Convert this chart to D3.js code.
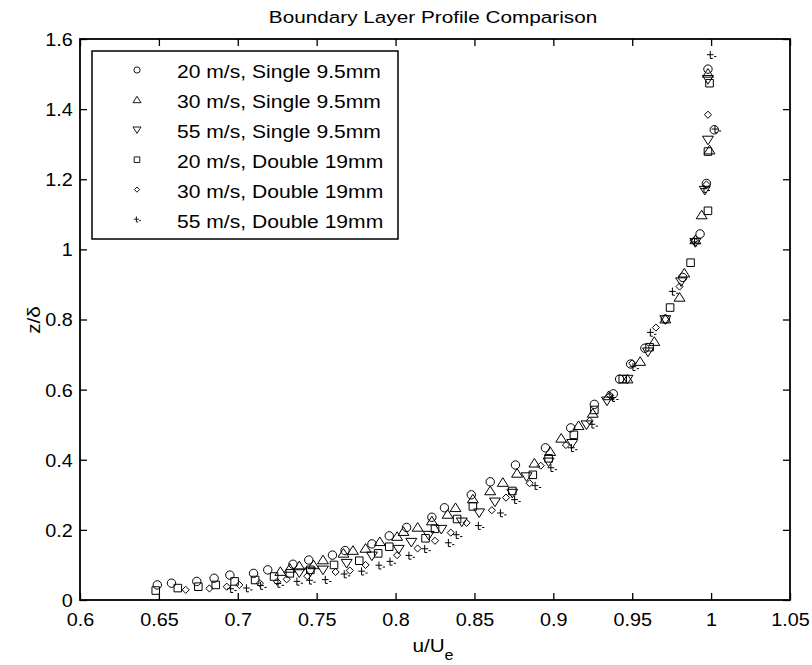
<!DOCTYPE html>
<html>
<head>
<meta charset="utf-8">
<script src="https://d3js.org/d3.v7.min.js"></script>
<style>
  body { margin: 0; background: #fff; }
  svg { display: block; }
  text { font-family: "Liberation Sans", Arial, sans-serif; fill: #000; }
</style>
</head>
<body>
<svg width="812" height="665"></svg>
<script>
const svg = d3.select('svg')

// tick labels
const xTicks = [0.6, 0.65, 0.7, 0.75, 0.8, 0.85, 0.9, 0.95, 1, 1.05]
const yTicks = [0, 0.2, 0.4, 0.6, 0.8, 1, 1.2, 1.4, 1.6]

// series values, [u/Ue, z/delta]
const single20 = [
	[0.649,0.043],[0.658,0.048],[0.674,0.053],[0.685,0.062],[0.695,0.071],[0.710,0.076],
	[0.719,0.086],[0.735,0.102],[0.745,0.114],[0.760,0.128],[0.768,0.141],[0.785,0.160],
	[0.796,0.183],[0.807,0.207],[0.823,0.236],[0.831,0.263],[0.848,0.300],[0.860,0.337],
	[0.876,0.385],[0.895,0.434],[0.911,0.491],[0.926,0.558],[0.938,0.588],[0.942,0.630],
	[0.949,0.673],[0.958,0.718],[0.971,0.801],[0.982,0.920],[0.993,1.044],[0.997,1.188],
	[1.002,1.341],[0.998,1.514]
]
const single30 = [
	[0.727,0.081],[0.733,0.090],[0.739,0.097],[0.748,0.100],[0.754,0.114],[0.767,0.133],
	[0.773,0.141],[0.781,0.147],[0.790,0.166],[0.801,0.181],[0.805,0.195],[0.814,0.207],
	[0.823,0.225],[0.833,0.244],[0.838,0.263],[0.849,0.288],[0.860,0.311],[0.868,0.335],
	[0.877,0.361],[0.888,0.390],[0.898,0.423],[0.905,0.461],[0.916,0.497],[0.925,0.532],
	[0.935,0.582],[0.947,0.630],[0.955,0.680],[0.964,0.737],[0.971,0.801],[0.980,0.863],
	[0.983,0.932],[0.990,1.027],[0.994,1.098],[0.999,1.283],[0.998,1.502]
]
const single55 = [
	[0.739,0.078],[0.746,0.081],[0.754,0.086],[0.769,0.105],[0.785,0.126],[0.802,0.145],
	[0.810,0.165],[0.821,0.185],[0.829,0.202],[0.842,0.223],[0.853,0.249],[0.863,0.280],
	[0.874,0.305],[0.883,0.352],[0.897,0.394],[0.912,0.447],[0.921,0.500],[0.934,0.568],
	[0.947,0.630],[0.960,0.708],[0.971,0.800],[0.981,0.908],[0.990,1.020],[0.996,1.169],
	[0.998,1.312],[0.998,1.485]
]
const double20 = [
	[0.648,0.027],[0.662,0.034],[0.675,0.038],[0.686,0.043],[0.698,0.053],[0.711,0.057],
	[0.723,0.067],[0.733,0.076],[0.746,0.086],[0.761,0.100],[0.777,0.112],[0.789,0.133],
	[0.796,0.152],[0.819,0.176],[0.825,0.203],[0.839,0.231],[0.849,0.267],[0.874,0.311],
	[0.887,0.357],[0.897,0.404],[0.913,0.471],[0.926,0.542],[0.944,0.630],[0.961,0.721],
	[0.974,0.834],[0.987,0.962],[0.998,1.110],[0.998,1.279],[0.999,1.474]
]
const double30 = [
	[0.667,0.029],[0.682,0.033],[0.693,0.038],[0.701,0.043],[0.714,0.048],[0.725,0.052],
	[0.731,0.059],[0.744,0.068],[0.762,0.080],[0.771,0.084],[0.781,0.100],[0.801,0.128],
	[0.814,0.147],[0.825,0.169],[0.835,0.192],[0.845,0.220],[0.861,0.256],[0.870,0.292],
	[0.885,0.333],[0.892,0.383],[0.908,0.442],[0.923,0.511],[0.936,0.583],[0.950,0.675],
	[0.965,0.777],[0.980,0.894],[0.989,1.025],[0.997,1.185],[0.998,1.384]
]
const double55 = [
	[0.696,0.031],[0.706,0.033],[0.715,0.040],[0.726,0.046],[0.738,0.052],[0.746,0.055],
	[0.756,0.057],[0.768,0.073],[0.779,0.081],[0.790,0.098],[0.797,0.109],[0.809,0.126],
	[0.819,0.145],[0.834,0.162],[0.839,0.185],[0.853,0.211],[0.867,0.247],[0.876,0.285],
	[0.889,0.325],[0.899,0.376],[0.912,0.433],[0.925,0.500],[0.938,0.576],[0.951,0.664],
	[0.962,0.762],[0.976,0.879],[0.990,1.020],[0.996,1.172],[1.003,1.342],[1.000,1.554]
]

const seriesNames = [
	'20 m/s, Single 9.5mm', '30 m/s, Single 9.5mm', '55 m/s, Single 9.5mm',
	'20 m/s, Double 19mm', '30 m/s, Double 19mm', '55 m/s, Double 19mm'
]
const seriesMarkers = ['circle', 'triUp', 'triDown', 'square', 'diamond', 'plus']
const seriesData = [single20, single30, single55, double20, double30, double55]

const margin = { left: 80, right: 22, top: 39, bottom: 65 }
const width = 812, height = 665
const plotW = width - margin.left - margin.right
const plotH = height - margin.top - margin.bottom

const x = d3.scaleLinear().domain([0.6, 1.05]).range([margin.left, margin.left + plotW])
const y = d3.scaleLinear().domain([0, 1.6]).range([margin.top + plotH, margin.top])

const markerPath = (type, r) => {
	switch (type) {
		case 'circle':
			return `M${r},0A${r},${r} 0 1,1 ${-r},0A${r},${r} 0 1,1 ${r},0Z`
		case 'triUp':
			return `M0,${-r * 1.15}L${r * 1.3},${r * 0.9}L${-r * 1.3},${r * 0.9}Z`
		case 'triDown':
			return `M0,${r * 1.15}L${r * 1.3},${-r * 0.9}L${-r * 1.3},${-r * 0.9}Z`
		case 'square':
			return `M${-r * 0.9},${-r * 0.9}H${r * 0.9}V${r * 0.9}H${-r * 0.9}Z`
		case 'diamond':
			return `M0,${-r * 0.85}L${r * 0.85},0L0,${r * 0.85}L${-r * 0.85},0Z`
		case 'plus':
			return `M${-r * 1.0},${-r * 0.1}H${r * 0.6}M${-r * 0.2},${-r * 1.0}V${r * 0.8}H${r * 0.4}M${r * 0.7},${r * 0.35}H${r * 1.25}`
	}
}

// title
svg.append('text')
	.attr('transform', 'translate(433,23) scale(1.22,1)')
	.attr('text-anchor', 'middle')
	.style('font-size', '17px')
	.text('Boundary Layer Profile Comparison')

// axes
const axisBottom = svg.append('g')
	.attr('transform', `translate(0,${margin.top + plotH})`)
	.call(d3.axisBottom(x).tickValues(xTicks).tickSizeInner(-7).tickSizeOuter(0).tickPadding(0)
		.tickFormat(d => String(+d.toFixed(2))))
axisBottom.selectAll('text').attr('y', 26).attr('dy', null)
	.style('font-size', '18px').attr('transform', 'scale(1.1,1)')

svg.append('g')
	.attr('transform', `translate(0,${margin.top})`)
	.call(d3.axisTop(x).tickValues(xTicks).tickSizeInner(-7).tickSizeOuter(0).tickFormat(''))

const axisLeft = svg.append('g')
	.attr('transform', `translate(${margin.left},0)`)
	.call(d3.axisLeft(y).tickValues(yTicks).tickSizeInner(-7).tickSizeOuter(0).tickPadding(0)
		.tickFormat(d => String(+d.toFixed(1))))
axisLeft.selectAll('text').attr('x', -6.5).attr('dy', '0.36em')
	.style('font-size', '18px').attr('transform', 'scale(1.1,1)')

svg.append('g')
	.attr('transform', `translate(${margin.left + plotW},0)`)
	.call(d3.axisRight(y).tickValues(yTicks).tickSizeInner(-7).tickSizeOuter(0).tickFormat(''))

svg.selectAll('.domain').remove()
svg.selectAll('.tick line').attr('stroke', '#000').attr('stroke-width', 1.3)

svg.append('rect')
	.attr('x', margin.left).attr('y', margin.top)
	.attr('width', plotW).attr('height', plotH)
	.attr('fill', 'none').attr('stroke', '#000').attr('stroke-width', 1.8)

// axis labels
const xl = svg.append('text')
	.attr('transform', 'translate(433,652) scale(1.15,1)')
	.attr('text-anchor', 'middle')
	.style('font-size', '18px')
xl.append('tspan').text('u/U')
xl.append('tspan').attr('dy', 8).style('font-size', '14px').text('e')

svg.append('text')
	.attr('transform', 'translate(40,320) rotate(-90) scale(1.15,1)')
	.attr('text-anchor', 'middle')
	.style('font-size', '18px')
	.text('z/δ')

// points
seriesData.forEach((pts, i) => {
	svg.append('g')
		.selectAll('path')
		.data(pts)
		.enter()
		.append('path')
		.attr('transform', d => `translate(${x(d[0])},${y(d[1])})`)
		.attr('d', markerPath(seriesMarkers[i], 4.2))
		.attr('fill', 'none')
		.attr('stroke', '#000')
		.attr('stroke-width', 1)
})

// legend
const legend = svg.append('g')
legend.append('rect')
	.attr('x', 92).attr('y', 51).attr('width', 306).attr('height', 188)
	.attr('fill', '#fff').attr('stroke', '#000').attr('stroke-width', 1.5)

const rows = legend.selectAll('.row')
	.data(seriesNames)
	.enter()
	.append('g')
	.attr('class', 'row')
	.attr('transform', (d, i) => `translate(0,${70 + i * 29.9})`)

rows.append('path')
	.attr('transform', 'translate(137,0)')
	.attr('d', (d, i) => markerPath(seriesMarkers[i], 3.1))
	.attr('fill', 'none')
	.attr('stroke', '#000')
	.attr('stroke-width', 0.9)

rows.append('text')
	.attr('transform', 'translate(177,8) scale(1.14,1)')
	.style('font-size', '18.5px')
	.text(d => d)
</script>
</body>
</html>
